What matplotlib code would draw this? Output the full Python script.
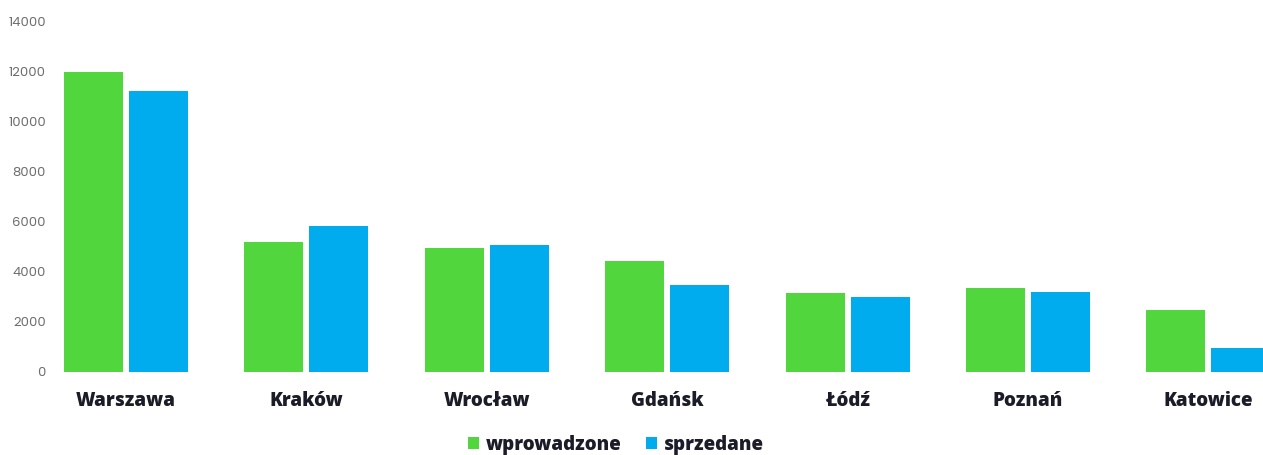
import matplotlib
matplotlib.use("Agg")
import matplotlib.pyplot as plt
from matplotlib.patches import Patch
import numpy as np

cities = ["Warszawa", "Kraków", "Wrocław", "Gdańsk", "Łódź", "Poznań", "Katowice"]
wprowadzone = [12000, 5200, 4960, 4440, 3160, 3360, 2480]
sprzedane = [11240, 5840, 5080, 3480, 3000, 3200, 960]
y_ticks = [0, 2000, 4000, 6000, 8000, 10000, 12000, 14000]
series_names = ["wprowadzone", "sprzedane"]

GREEN = "#51d63d"
BLUE = "#00acee"
DARK = "#1c1c28"
LABEL_FONT = ["Open Sans", "DejaVu Sans"]

W, H = 1263, 455
fig = plt.figure(figsize=(W / 100, H / 100), dpi=100)
ax = fig.add_axes([55 / W, (H - 372) / H, (W - 55) / W, (372 - 22) / H])

x = np.arange(len(cities))
bw = 0.327
off = 0.180
ax.bar(x - off, wprowadzone, width=bw, color=GREEN)
ax.bar(x + off, sprzedane, width=bw, color=BLUE)

ax.set_xlim(-0.394, 6.303)
ax.set_ylim(0, 14000)
ax.set_yticks(y_ticks)
ax.set_yticklabels([str(v) for v in y_ticks], fontsize=9.5, color="#6e6e6e",
                   family=["Poppins", "Lato", "DejaVu Sans"])
ax.get_yticklabels()[0].set_y(140)
ax.set_xticks(x)
ax.set_xticklabels(cities, fontsize=13.5, fontweight="heavy", color=DARK,
                   family=LABEL_FONT)
ax.tick_params(axis="y", length=0, pad=6.5)
ax.tick_params(axis="x", length=0, pad=14)
for s in ax.spines.values():
    s.set_visible(False)

handles = [Patch(facecolor=GREEN, edgecolor="none"), Patch(facecolor=BLUE, edgecolor="none")]
fig.legend(handles, series_names, loc="center", bbox_to_anchor=(616 / W, 1 - 445 / H),
           ncol=2, frameon=False, handlelength=0.6, handleheight=0.6,
           handletextpad=0.35, columnspacing=1.3,
           prop={"size": 13.5, "weight": "heavy", "family": LABEL_FONT},
           labelcolor=DARK)

fig.savefig("out.png", dpi=100)
